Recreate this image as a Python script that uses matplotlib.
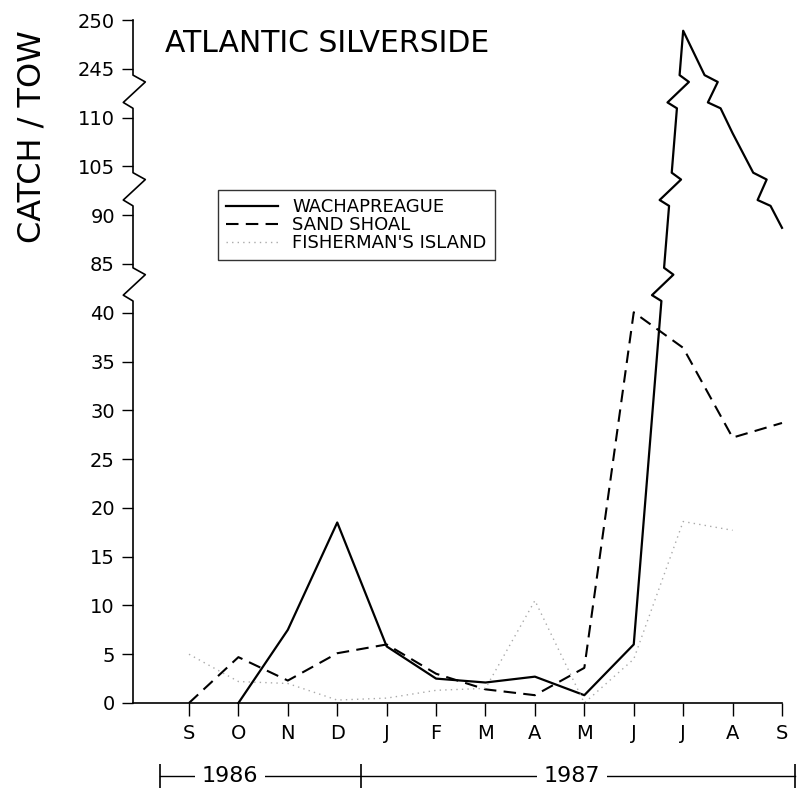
import numpy as np
import matplotlib
matplotlib.use('Agg')
import matplotlib.pyplot as plt
from matplotlib.transforms import blended_transform_factory

# months Sep 1986 .. Sep 1987
months = ['S', 'O', 'N', 'D', 'J', 'F', 'M', 'A', 'M', 'J', 'J', 'A', 'S']
wachapreague = [np.nan, 0, 7.5, 18.5, 5.8, 2.5, 2.1, 2.7, 0.8, 6.0, 248.9, 108.4, 88.7]
sand_shoal = [0, 4.7, 2.3, 5.1, 6.0, 3.0, 1.4, 0.8, 3.6, 40.4, 36.4, 27.2, 28.7]
fishermans = [5.0, 2.2, 2.0, 0.3, 0.5, 1.3, 1.5, 10.5, 0.0, 4.5, 18.6, 17.7, np.nan]

# broken y axis: value -> display position
seg_vals = [0, 40, 85, 90, 105, 110, 245, 250]
seg_pos = [0, 8, 9, 10, 11, 12, 13, 14]
ytick_labels = ['0', '5', '10', '15', '20', '25', '30', '35', '40',
                '85', '90', '105', '110', '245', '250']
breaks = [8.6, 10.55, 12.55]
zigzag = [(-0.36, 0), (-0.24, -1), (0.18, 1), (0.32, 0)]


def to_pos(vals):
    v = np.asarray(vals, dtype=float)
    return np.where(np.isnan(v), np.nan, np.interp(v, seg_vals, seg_pos))


def with_breaks(xs, ps, dx=0.2):
    # insert little zigzags where a line crosses an axis break
    ox, op = [xs[0]], [ps[0]]
    for i in range(1, len(xs)):
        x0, p0, x1, p1 = xs[i - 1], ps[i - 1], xs[i], ps[i]
        if not (np.isnan(p0) or np.isnan(p1)):
            lo, hi = min(p0, p1), max(p0, p1)
            cs = [c for c in breaks if lo < c - 0.36 and c + 0.32 < hi]
            if p1 < p0:
                cs = cs[::-1]
            for c in cs:
                pts = [(c + d, s) for d, s in zigzag]
                if p1 < p0:
                    pts = pts[::-1]
                for p, s in pts:
                    ox.append(x0 + (p - p0) / (p1 - p0) * (x1 - x0) + s * dx)
                    op.append(p)
        ox.append(x1)
        op.append(p1)
    return ox, op


plt.rcParams['font.family'] = ['DejaVu Sans']

fig = plt.figure(figsize=(7.99, 7.95), dpi=100)
ax = fig.add_axes([133 / 799, 1 - 703 / 795, 649 / 799, 683 / 795])

x = np.arange(len(months))

wx, wp = with_breaks(x, to_pos(wachapreague))
ax.plot(wx, wp, color='black', lw=1.6, label='WACHAPREAGUE', clip_on=False)
sx, sp = with_breaks(x, to_pos(sand_shoal))
ax.plot(sx, sp, color='black', lw=1.5, dashes=(6, 3.5), label='SAND SHOAL', clip_on=False)
fx, fp = with_breaks(x, to_pos(fishermans))
ax.plot(fx, fp, color='#aaaaaa', lw=1.0, linestyle=(0, (1, 3)),
        label="FISHERMAN'S ISLAND", clip_on=False)

ax.set_xlim(-1.133, 12)
ax.set_ylim(0, 14)
ax.set_xticks(x)
ax.set_xticklabels(months)
ax.set_yticks(np.arange(15))
ax.set_yticklabels(ytick_labels)
ax.tick_params(axis='x', direction='out', length=9, width=1, pad=6, labelsize=14)
ax.tick_params(axis='y', direction='out', length=8, width=1, pad=5, labelsize=14)

for s in ['top', 'right', 'left']:
    ax.spines[s].set_visible(False)
ax.spines['bottom'].set_linewidth(1.2)

# left axis drawn by hand, with break marks
tr = blended_transform_factory(ax.transAxes, ax.transData)
axx, axp = [0], [0]
for c in breaks:
    for d, s in zigzag:
        axx.append(0.019 * s if s > 0 else 0.015 * s)
        axp.append(c + d)
axx.append(0)
axp.append(14)
ax.plot(axx, axp, color='black', lw=1.2, transform=tr, clip_on=False)

leg = ax.legend(loc='upper left', bbox_to_anchor=(218 / 799, 1 - 190 / 795),
                bbox_transform=fig.transFigure, fontsize=13, frameon=True,
                fancybox=False, edgecolor='black', handlelength=2.9,
                handletextpad=0.75, labelspacing=0.0, borderpad=0.45,
                borderaxespad=0)
leg.get_frame().set_linewidth(1.0)

fig.text(165 / 799, 1 - 43 / 795, 'ATLANTIC SILVERSIDE', fontsize=21.5,
         ha='left', va='center')
fig.text(32 / 799, 1 - 137 / 795, 'CATCH / TOW', fontsize=23, rotation=90,
         ha='center', va='center')

# year bar under the months
yb = blended_transform_factory(ax.transData, fig.transFigure)
ybar = 1 - 776 / 795
ax.plot([-0.59, 12.26], [ybar, ybar], color='black', lw=1.0, transform=yb, clip_on=False)
ax.plot([-0.59, 3.48, 12.26], [ybar] * 3, linestyle='none', marker='|',
        markersize=17, markeredgewidth=1.2, color='black', transform=yb, clip_on=False)
for xc, lab in [(0.83, '1986'), (7.75, '1987')]:
    ax.text(xc, ybar, lab, transform=yb, ha='center', va='center', fontsize=16,
            bbox=dict(facecolor='white', edgecolor='none', pad=5))

fig.savefig('out.png', dpi=100)
